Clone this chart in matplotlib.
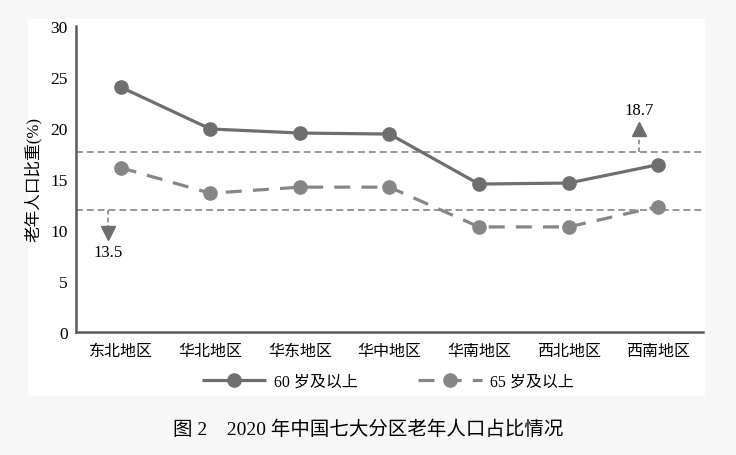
import matplotlib.pyplot as plt
from matplotlib.patches import Rectangle

plt.rcParams['font.family'] = ['Liberation Serif', 'Noto Sans CJK SC']
plt.rcParams['axes.unicode_minus'] = False

# data
regions = ['东北地区', '华北地区', '华东地区', '华中地区', '华南地区', '西北地区', '西南地区']
age60 = [24.0, 19.9, 19.5, 19.4, 14.5, 14.6, 16.4]
age65 = [16.1, 13.6, 14.2, 14.2, 10.3, 10.3, 12.3]
ref_lines = [17.65, 12.0]
ref_labels = ['18.7', '13.5']

fig = plt.figure(figsize=(7.36, 4.56), dpi=100, facecolor='#f7f7f7')

# white panel behind the chart
fig.patches.append(Rectangle((0.038, 0.129), 0.92, 0.827, transform=fig.transFigure,
                             facecolor='white', edgecolor='none', zorder=-1))

ax = fig.add_axes([0.1033, 0.2697, 0.8517, 0.6713])
ax.set_facecolor('none')
x = list(range(len(regions)))

ax.plot(x, age60, color='#6e6e6e', lw=2.3, marker='o', markersize=9.5,
        label='60 岁及以上', solid_capstyle='butt')
ax.plot(x, age65, color='#868686', lw=2.3, marker='o', markersize=9.5,
        dashes=(5, 3.5), label='65 岁及以上')

for y in ref_lines:
    ax.axhline(y, color='#7a7a7a', lw=1.1, dashes=(4.5, 2.6), zorder=1)

# arrows for the national values
ax.plot([5.79, 5.79], [ref_lines[0], 19.3], color='#7a7a7a', lw=1.1, dashes=(3, 2))
ax.plot(5.79, 19.9, marker='^', markersize=10, color='#6e6e6e', lw=0)
ax.text(5.79, 21.8, ref_labels[0], ha='center', va='center', fontsize=12)

ax.plot([-0.145, -0.145], [ref_lines[1], 10.3], color='#7a7a7a', lw=1.1, dashes=(3, 2))
ax.plot(-0.145, 9.7, marker='v', markersize=10, color='#6e6e6e', lw=0)
ax.text(-0.145, 7.8, ref_labels[1], ha='center', va='center', fontsize=12)

ax.set_xlim(-0.5, 6.5)
ax.set_ylim(0, 30)
ax.set_yticks(range(0, 31, 5))
ax.set_xticks(x)
ax.set_xticklabels(regions, fontsize=11.5)
ax.tick_params(axis='y', labelsize=12.5, length=0, pad=6)
ax.tick_params(axis='x', length=0, pad=8)
for s in ['top', 'right']:
    ax.spines[s].set_visible(False)
for s in ['left', 'bottom']:
    ax.spines[s].set_color('#595959')
    ax.spines[s].set_linewidth(1.8)
ax.set_ylabel('老年人口比重(%)', fontsize=12, labelpad=6)

fig.legend(loc='center', bbox_to_anchor=(0.527, 1 - 383 / 456), ncol=2, frameon=False,
           handlelength=4.0, columnspacing=3.8, fontsize=11.5, handletextpad=0.5)

fig.text(0.5, 1 - 430 / 456, '图 2　2020 年中国七大分区老年人口占比情况',
         ha='center', va='center', fontsize=14)

fig.savefig('out.png', dpi=100, facecolor=fig.get_facecolor())
